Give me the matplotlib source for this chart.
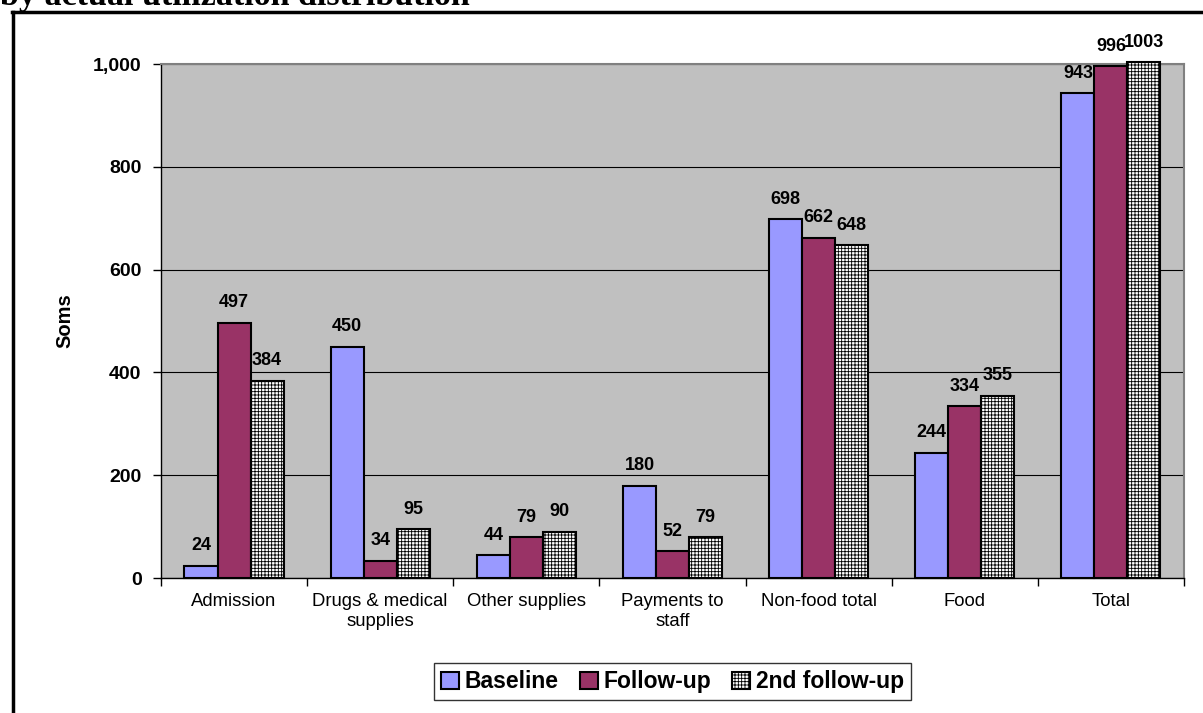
import numpy as np
import matplotlib
matplotlib.use("Agg")
import matplotlib.pyplot as plt
from matplotlib.lines import Line2D
from matplotlib.ticker import FuncFormatter

plt.rcParams['font.family'] = ['Liberation Sans', 'DejaVu Sans']
plt.rcParams['hatch.linewidth'] = 0.6

categories = ["Admission", "Drugs & medical\nsupplies", "Other supplies",
              "Payments to\nstaff", "Non-food total", "Food", "Total"]
baseline = [24, 450, 44, 180, 698, 244, 943]
followup = [497, 34, 79, 52, 662, 334, 996]
followup2 = [384, 95, 90, 79, 648, 355, 1003]
series_names = ["Baseline", "Follow-up", "2nd follow-up"]

fig = plt.figure(figsize=(12.03, 7.13), dpi=100)
ax = fig.add_axes([0.1338, 0.1893, 0.8504, 0.7209])
ax.set_facecolor("#C0C0C0")

x = np.arange(len(categories))
w = 0.226
styles = [
    dict(color="#9999FF"),
    dict(color="#993366"),
    dict(color="white", hatch="+++++"),
]
for i, (vals, st) in enumerate(zip([baseline, followup, followup2], styles)):
    ax.bar(x + (i - 1) * w, vals, w, edgecolor="black", linewidth=1.5,
           label=series_names[i], zorder=3, clip_on=False, **st)
    for xi, v in zip(x + (i - 1) * w, vals):
        ax.annotate(str(v), (xi, v), xytext=(0, 11), textcoords="offset points",
                    ha="center", va="baseline", fontsize=13, fontweight="bold",
                    zorder=5, annotation_clip=False)

ax.set_xlim(-0.5, len(categories) - 0.5)
ax.set_ylim(0, 1000)
ax.set_yticks(np.arange(0, 1001, 200))
ax.yaxis.set_major_formatter(FuncFormatter(lambda v, p: f"{int(v):,}"))
ax.yaxis.grid(True, color="black", linewidth=0.8, zorder=1)
ax.set_axisbelow(True)

# category labels in the middle, ticks on the boundaries
ax.set_xticks(x)
ax.set_xticklabels(categories, fontsize=13.3, linespacing=1.2)
ax.tick_params(axis="x", length=0, pad=11)
ax.set_xticks(np.arange(-0.5, len(categories)), minor=True)
ax.tick_params(axis="x", which="minor", length=6, width=1, color="black")
ax.tick_params(axis="y", length=6, width=1, pad=8, labelsize=14)
for lbl in ax.get_yticklabels():
    lbl.set_fontweight("bold")

ax.set_ylabel("Soms", fontsize=14.5, fontweight="bold")
ax.yaxis.set_label_coords(-0.085, 0.5)

for s in ["top", "right"]:
    ax.spines[s].set_color("#808080")
    ax.spines[s].set_linewidth(1.5)
for s in ["left", "bottom"]:
    ax.spines[s].set_color("black")
    ax.spines[s].set_linewidth(1)

leg = ax.legend(loc="center", bbox_to_anchor=(0.5, -0.202), ncol=3,
                frameon=True, fancybox=False, edgecolor="black",
                prop=dict(size=16.5, weight="bold"), handlelength=0.8,
                handleheight=0.8, handletextpad=0.25, columnspacing=0.9,
                borderpad=0.3)
leg.get_frame().set_linewidth(1)

# page frame and the clipped heading above the chart
fig.add_artist(Line2D([0.0112, 0.0112], [0, 0.983], transform=fig.transFigure,
                      color="black", linewidth=2.5))
fig.add_artist(Line2D([0.0102, 1], [0.983, 0.983], transform=fig.transFigure,
                      color="black", linewidth=2.5))
fig.text(0.0, 1 - 5 / 713, "by actual utilization distribution",
         fontsize=24.5, fontweight="bold", family="Liberation Serif",
         ha="left", va="baseline")

fig.savefig("out.png", dpi=100)
